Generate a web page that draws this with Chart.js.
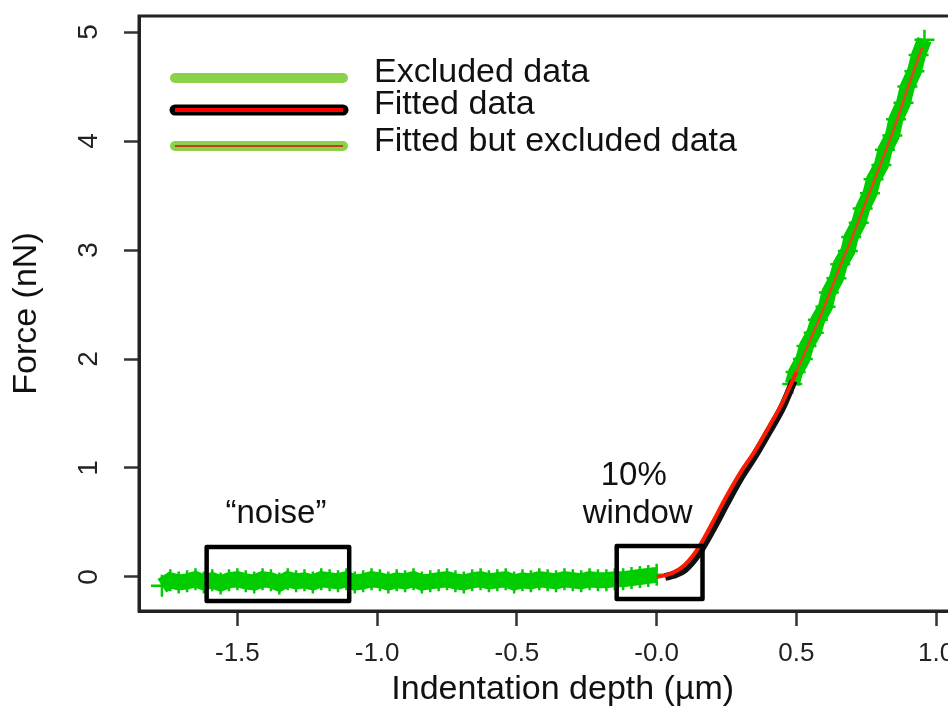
<!DOCTYPE html>
<html>
<head>
<meta charset="utf-8">
<script src="https://cdn.jsdelivr.net/npm/chart.js@4.4.1/dist/chart.umd.min.js"></script>
<style>
  html, body { margin: 0; padding: 0; background: #fff; }
  #wrap { width: 948px; height: 709px; overflow: hidden; }
  canvas { display: block; }
</style>
</head>
<body>
<div id="wrap"><canvas id="curve" width="1000" height="709"></canvas></div>
<script>
// baseline before contact (excluded from the fit)
const noiseDepth = [
  -1.77, -1.74, -1.71, -1.68, -1.65, -1.62, -1.59, -1.56, -1.53, -1.50,
  -1.47, -1.44, -1.41, -1.38, -1.35, -1.32, -1.29, -1.26, -1.23, -1.20,
  -1.17, -1.14, -1.11, -1.08, -1.05, -1.02, -0.99, -0.96, -0.93, -0.90,
  -0.87, -0.84, -0.81, -0.78, -0.75, -0.72, -0.69, -0.66, -0.63, -0.60,
  -0.57, -0.54, -0.51, -0.48, -0.45, -0.42, -0.39, -0.36, -0.33, -0.30,
  -0.27, -0.24, -0.21, -0.18, -0.15, -0.12, -0.09, -0.06, -0.03, 0.00
];
const noiseForce = [
  -0.08, -0.03, -0.05, -0.04, -0.02, -0.05, -0.03, -0.06, -0.03, -0.02,
  -0.04, -0.05, -0.02, -0.03, -0.06, -0.02, -0.04, -0.03, -0.05, -0.02,
  -0.03, -0.04, -0.02, -0.05, -0.04, -0.02, -0.03, -0.05, -0.03, -0.04,
  -0.02, -0.05, -0.04, -0.03, -0.02, -0.04, -0.05, -0.03, -0.02, -0.04,
  -0.03, -0.02, -0.05, -0.03, -0.04, -0.02, -0.03, -0.04, -0.02, -0.03,
  -0.04, -0.02, -0.03, -0.03, -0.02, -0.02, -0.01, 0.00, 0.01, 0.02
];

// indentation beyond the 10% window (fitted but excluded)
const bandDepth = [
  0.485, 0.497, 0.523, 0.536, 0.562, 0.577, 0.604, 0.616, 0.643, 0.657,
  0.684, 0.696, 0.723, 0.737, 0.763, 0.776, 0.804, 0.817, 0.843, 0.856,
  0.883, 0.897, 0.922, 0.937, 0.958
];
const bandForce = [
  1.77, 1.88, 2.00, 2.12, 2.24, 2.36, 2.48, 2.61, 2.74, 2.87,
  2.99, 3.12, 3.25, 3.38, 3.52, 3.65, 3.78, 3.92, 4.05, 4.20,
  4.35, 4.50, 4.64, 4.79, 4.93
];

// measured points used by the fit
const fittedDepth = [0.03, 0.06, 0.10, 0.15, 0.20, 0.25, 0.30, 0.35, 0.40, 0.45, 0.49];
const fittedForce = [0.00, 0.02, 0.07, 0.22, 0.44, 0.68, 0.91, 1.11, 1.33, 1.56, 1.80];

// fitted model curve
const fitDepth = [0.00, 0.05, 0.10, 0.15, 0.20, 0.25, 0.30, 0.35, 0.40, 0.45,
                  0.50, 0.55, 0.60, 0.65, 0.70, 0.75, 0.80, 0.85, 0.90, 0.95];
const fitForce = [0.00, 0.03, 0.11, 0.27, 0.50, 0.74, 0.96, 1.15, 1.37, 1.60,
                  1.88, 2.18, 2.48, 2.81, 3.12, 3.45, 3.78, 4.12, 4.50, 4.86];
const fitWindowEnd = 0.5;

const xTickValues = [-1.5, -1.0, -0.5, 0.0, 0.5, 1.0];
const xTickLabels = ['-1.5', '-1.0', '-0.5', '-0.0', '0.5', '1.0'];
const yTickValues = [0, 1, 2, 3, 4, 5];
const yTickLabels = ['0', '1', '2', '3', '4', '5'];

const legendLabels = ['Excluded data', 'Fitted data', 'Fitted but excluded data'];

const FONT = "'Liberation Sans', Arial, sans-serif";
const GREEN = '#00cc00';
const LEGEND_GREEN = '#8bd14a';

const toPoints = (xs, ys) => xs.map((x, i) => ({ x: x, y: ys[i] }));
const fitPoints = toPoints(fitDepth, fitForce);

const lookup = (values, labels) => v => {
  const i = values.findIndex(t => Math.abs(t - v) < 1e-9);
  return i < 0 ? '' : labels[i];
};

// boxes and notes, in data units
const noiseBox = { x0: -1.61, x1: -1.10, y0: -0.22, y1: 0.275 };
const windowBox = { x0: -0.143, x1: 0.164, y0: -0.202, y1: 0.284 };
const notes = [
  { text: '\u201Cnoise\u201D', x: -1.362, y: 0.575 },
  { text: '10%', x: -0.082, y: 0.93 },
  { text: 'window', x: -0.068, y: 0.575 }
];

const overlay = {
  id: 'overlay',
  afterDatasetsDraw(chart) {
    const { ctx, chartArea: a, scales: { x, y } } = chart;
    ctx.save();

    // top edge of the plot frame
    ctx.strokeStyle = '#222';
    ctx.lineWidth = 3;
    ctx.strokeRect(a.left, a.top, a.right - a.left, a.bottom - a.top);

    // annotation boxes
    ctx.strokeStyle = '#000';
    ctx.lineWidth = 4.5;
    ctx.lineJoin = 'round';
    [noiseBox, windowBox].forEach(b => {
      const l = x.getPixelForValue(b.x0), r = x.getPixelForValue(b.x1);
      const t = y.getPixelForValue(b.y1), btm = y.getPixelForValue(b.y0);
      ctx.strokeRect(l, t, r - l, btm - t);
    });

    ctx.fillStyle = '#111';
    ctx.font = '33px ' + FONT;
    ctx.textAlign = 'center';
    ctx.textBaseline = 'middle';
    notes.forEach(n => ctx.fillText(n.text, x.getPixelForValue(n.x), y.getPixelForValue(n.y)));

    // legend
    const lx0 = 175, lx1 = 343;
    const rows = [
      { y: 78, ty: 72, layers: [[LEGEND_GREEN, 10]] },
      { y: 110, ty: 104, layers: [['#000', 11], ['#ff0000', 4]] },
      { y: 146, ty: 141, layers: [[LEGEND_GREEN, 10], ['#c4401c', 2]] }
    ];
    ctx.font = '34px ' + FONT;
    rows.forEach((row, i) => {
      row.layers.forEach(([color, w], k) => {
        ctx.beginPath();
        ctx.strokeStyle = color;
        ctx.lineWidth = w;
        ctx.lineCap = k === 0 ? 'round' : 'butt';
        ctx.moveTo(lx0, row.y);
        ctx.lineTo(lx1, row.y);
        ctx.stroke();
      });
      ctx.textAlign = 'left';
      ctx.fillText(legendLabels[i], 374, row.ty + 1);
    });

    ctx.restore();
  }
};

const axisGrid = {
  display: true,
  drawOnChartArea: false,
  drawTicks: true,
  tickLength: 15,
  tickWidth: 2.5,
  tickColor: '#333'
};

new Chart(document.getElementById('curve'), {
  type: 'scatter',
  data: {
    datasets: [
      {
        label: 'Fit',
        data: fitPoints.filter(p => p.x <= fitWindowEnd),
        showLine: true, borderColor: '#ff1a00', borderWidth: 4,
        pointRadius: 0, cubicInterpolationMode: 'monotone', order: 0
      },
      {
        label: legendLabels[1],
        data: toPoints(fittedDepth, fittedForce),
        showLine: true, borderColor: '#111', borderWidth: 8,
        pointRadius: 0, cubicInterpolationMode: 'monotone', order: 1
      },
      {
        label: 'Fit beyond window',
        data: fitPoints.filter(p => p.x >= fitWindowEnd - 0.05),
        showLine: true, borderColor: '#e2461a', borderWidth: 2.5,
        pointRadius: 0, cubicInterpolationMode: 'monotone', order: 2
      },
      {
        label: legendLabels[2],
        data: toPoints(bandDepth, bandForce),
        showLine: true, borderColor: GREEN, borderWidth: 15,
        pointStyle: 'cross', pointRadius: 10, pointBorderWidth: 2.5,
        pointBorderColor: GREEN, pointBackgroundColor: GREEN, order: 3
      },
      {
        label: legendLabels[0],
        data: toPoints(noiseDepth, noiseForce),
        showLine: true, borderColor: GREEN, borderWidth: 16,
        pointStyle: 'cross', pointRadius: 11, pointBorderWidth: 2.5,
        pointBorderColor: GREEN, pointBackgroundColor: GREEN, order: 4
      }
    ]
  },
  options: {
    responsive: false,
    animation: false,
    devicePixelRatio: 1,
    events: [],
    layout: { padding: { top: 16, right: 13, bottom: 0, left: 0 } },
    plugins: { legend: { display: false }, tooltip: { enabled: false } },
    scales: {
      x: {
        type: 'linear',
        min: -1.852,
        max: 1.18,
        afterBuildTicks: s => { s.ticks = xTickValues.map(v => ({ value: v })); },
        afterFit: s => { s.height = 98; s.paddingLeft = 0; s.paddingRight = 0; },
        grid: axisGrid,
        border: { display: true, color: '#222', width: 3 },
        ticks: {
          autoSkip: false, maxRotation: 0, padding: 12,
          color: '#222', font: { family: FONT, size: 26 },
          callback: lookup(xTickValues, xTickLabels)
        },
        title: {
          display: true, text: 'Indentation depth (\u00B5m)',
          color: '#111', font: { family: FONT, size: 34 },
          padding: { top: 0, bottom: -1 }
        }
      },
      y: {
        type: 'linear',
        min: -0.312,
        max: 5.147,
        afterBuildTicks: s => { s.ticks = yTickValues.map(v => ({ value: v })); },
        afterFit: s => { s.width = 139; s.paddingTop = 0; s.paddingBottom = 0; },
        grid: axisGrid,
        border: { display: true, color: '#222', width: 3 },
        ticks: {
          autoSkip: false, minRotation: 90, maxRotation: 90,
          crossAlign: 'center', padding: 27,
          color: '#222', font: { family: FONT, size: 28 },
          callback: lookup(yTickValues, yTickLabels)
        },
        title: {
          display: true, text: 'Force (nN)',
          color: '#111', font: { family: FONT, size: 34 },
          padding: { top: 6, bottom: 0 }
        }
      }
    }
  },
  plugins: [overlay]
});
</script>
</body>
</html>
